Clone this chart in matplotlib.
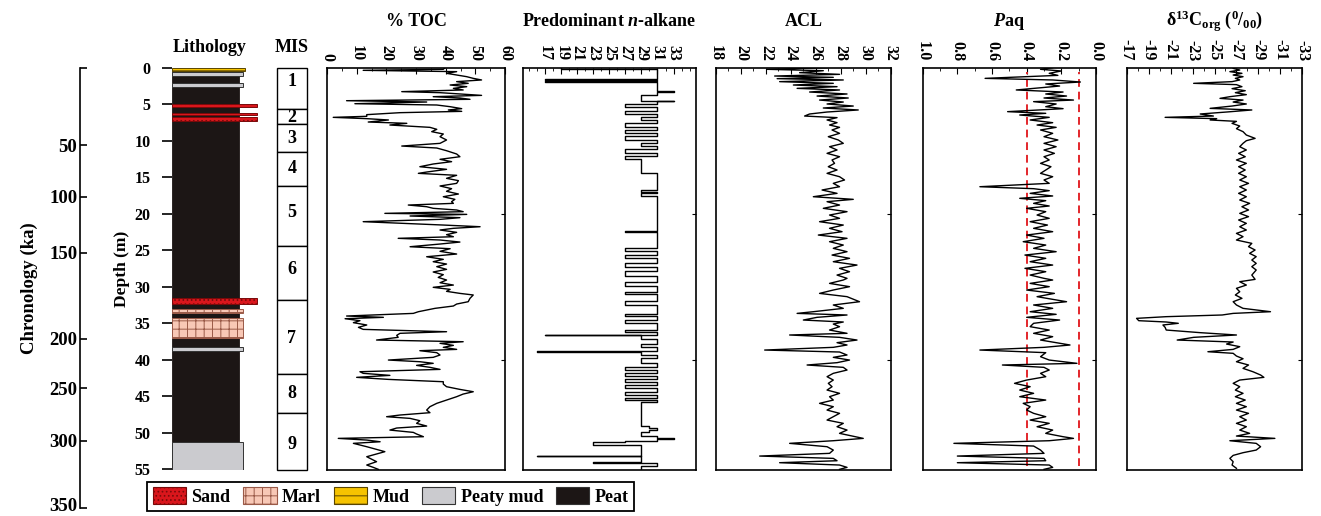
import matplotlib.pyplot as plt
from matplotlib.patches import Patch
from matplotlib.transforms import ScaledTranslation

# ---------------- data ----------------
# % TOC
toc_depth = [0.00, 0.22, 0.36, 0.54, 0.77, 1.23, 1.46, 1.68, 1.91, 2.14,
             2.37, 2.60, 2.83, 3.05, 3.28, 3.42, 3.60, 3.79, 3.97, 4.15,
             4.33, 4.52, 4.70, 4.93, 5.11, 5.34, 5.61, 5.79, 5.98, 6.16,
             6.43, 6.66, 6.80, 6.98, 7.16, 7.44, 7.62, 7.85, 8.17, 8.44,
             8.76, 9.08, 9.45, 9.90, 10.36, 10.73, 11.00, 11.37, 11.82, 12.19,
             12.55, 12.87, 13.19, 13.56, 13.92, 14.29, 14.47, 14.74, 15.15, 15.47,
             15.84, 16.20, 16.57, 16.93, 17.30, 17.67, 18.03, 18.35, 18.58, 18.81,
             19.04, 19.26, 19.49, 19.72, 19.95, 20.09, 20.31, 20.54, 20.77, 21.09,
             21.32, 21.55, 21.78, 22.00, 22.23, 22.55, 22.87, 23.15, 23.37, 23.60,
             23.88, 24.15, 24.52, 24.79, 25.15, 25.52, 25.89, 26.25, 26.57, 26.89,
             27.25, 27.62, 27.98, 28.35, 28.72, 29.08, 29.45, 29.77, 30.08, 30.36,
             30.63, 30.91, 31.13, 31.59, 32.05, 32.37, 32.64, 32.96, 33.42, 33.65,
             34.01, 34.19, 34.38, 34.65, 34.92, 35.24, 35.56, 35.84, 36.16, 36.38,
             36.66, 36.93, 37.30, 37.53, 37.75, 38.03, 38.30, 38.58, 38.76, 39.03,
             39.35, 39.67, 40.04, 40.27, 40.49, 40.77, 41.04, 41.32, 41.64, 41.86,
             42.14, 42.41, 42.69, 43.01, 43.33, 43.69, 44.06, 44.38, 44.70, 45.06,
             45.52, 45.97, 46.43, 46.89, 47.25, 47.57, 47.80, 48.03, 48.35, 48.71,
             49.08, 49.35, 49.63, 49.95, 50.17, 50.54, 50.77, 51.00, 51.23, 51.45,
             51.91, 52.59, 53.28, 53.96, 54.42, 54.74, 55.01]
toc_value = [39.8, 39.2, 12.2, 43.7, 40.3, 47.1, 49.3, 52.1, 43.7, 47.6,
             41.5, 47.1, 42.6, 45.9, 25.2, 38.1, 44.8, 52.1, 35.8, 44.8,
             48.2, 6.6, 33.6, 9.4, 37.0, 41.5, 45.4, 40.9, 45.4, 24.6,
             13.4, 13.4, 2.1, 13.4, 20.7, 13.9, 26.9, 21.2, 34.7, 37.0,
             35.3, 39.2, 38.1, 40.3, 38.1, 25.2, 37.0, 40.3, 43.7, 44.8,
             38.1, 42.0, 35.8, 31.3, 40.3, 33.6, 30.8, 43.7, 40.3, 44.3,
             43.7, 38.1, 42.0, 40.3, 44.3, 39.2, 43.1, 42.0, 42.6, 27.4,
             33.6, 35.8, 43.7, 45.9, 19.5, 47.1, 28.0, 44.8, 38.1, 12.2,
             25.7, 39.2, 51.6, 42.6, 38.1, 43.7, 40.3, 42.6, 24.0, 38.1,
             44.8, 38.1, 28.0, 41.5, 38.1, 43.7, 33.6, 39.2, 35.8, 40.3,
             37.0, 40.3, 35.8, 39.2, 37.5, 40.3, 38.1, 42.6, 35.8, 41.5,
             40.3, 44.8, 49.3, 48.2, 47.6, 43.7, 42.6, 36.4, 30.8, 29.1,
             6.6, 19.0, 6.1, 11.1, 8.9, 13.4, 10.6, 12.2, 40.3, 24.6,
             23.5, 24.0, 16.7, 45.9, 38.1, 42.6, 39.2, 43.7, 31.3, 37.0,
             38.1, 35.8, 20.7, 31.3, 35.8, 30.2, 34.7, 38.1, 11.1, 12.2,
             21.2, 10.0, 20.7, 39.2, 39.2, 40.3, 44.8, 49.3, 45.9, 43.7,
             40.3, 37.0, 34.7, 33.6, 34.7, 24.6, 20.1, 28.0, 31.3, 30.2,
             33.6, 23.5, 21.2, 29.1, 30.2, 32.5, 3.8, 13.4, 17.9, 8.9,
             13.4, 19.5, 13.4, 16.7, 13.4, 15.6, 17.3]

# predominant n-alkane (each value holds from its depth down to the next one)
alk_depth = [0.00, 0.20, 1.58, 1.62, 1.88, 1.92, 3.25, 3.32, 3.75, 4.55,
             4.62, 5.00, 5.40, 5.90, 6.30, 6.80, 7.20, 7.60, 8.10, 8.50,
             8.95, 9.40, 9.85, 10.30, 10.70, 11.20, 11.65, 12.10, 12.50, 14.45,
             16.80, 17.00, 17.15, 17.55, 22.35, 22.45, 24.65, 25.10, 25.60, 26.10,
             26.70, 27.30, 27.90, 28.50, 29.30, 29.90, 30.70, 30.95, 31.95, 32.50,
             33.70, 33.95, 34.60, 35.00, 35.90, 36.20, 36.55, 36.65, 37.10, 37.80,
             38.20, 38.85, 38.95, 39.35, 39.80, 40.50, 41.00, 41.40, 41.80, 42.20,
             42.60, 43.00, 43.50, 43.90, 44.40, 44.80, 45.20, 45.55, 45.85, 49.10,
             49.35, 49.65, 49.90, 50.40, 50.75, 50.90, 51.10, 51.30, 51.70, 53.15,
             53.25, 54.05, 54.20, 54.55, 55.00]
alk_value = [19, 31, 17, 31, 17, 31, 33, 31, 29, 33,
             31, 27, 31, 27, 31, 29, 31, 27, 31, 27,
             31, 27, 31, 29, 31, 27, 31, 27, 29, 31,
             29, 31, 29, 31, 27, 31, 27, 31, 27, 31,
             27, 31, 27, 31, 27, 31, 27, 31, 27, 31,
             27, 31, 27, 31, 27, 31, 17, 29, 31, 29,
             31, 16, 29, 31, 29, 31, 27, 31, 27, 31,
             27, 31, 27, 31, 27, 31, 27, 31, 29, 30,
             31, 30, 29, 31, 33, 31, 27, 23, 29, 16,
             29, 23, 31, 29, 29]

# ACL
acl_depth = [0.00, 0.22, 0.41, 0.68, 0.91, 1.14, 1.32, 1.50, 1.68, 1.91,
             2.14, 2.37, 2.60, 2.83, 3.05, 3.33, 3.60, 3.88, 4.15, 4.43,
             4.70, 4.97, 5.25, 5.52, 5.79, 6.07, 6.34, 6.62, 6.84, 7.16,
             7.53, 7.85, 8.17, 8.53, 8.99, 9.45, 9.90, 10.36, 10.82, 11.27,
             11.73, 12.19, 12.64, 13.10, 13.56, 14.01, 14.47, 14.93, 15.38, 15.84,
             16.30, 16.75, 17.21, 17.67, 18.03, 18.35, 18.81, 19.26, 19.72, 20.18,
             20.63, 21.09, 21.55, 22.00, 22.46, 22.92, 23.37, 23.83, 24.29, 24.74,
             25.20, 25.66, 26.11, 26.57, 27.03, 27.48, 27.94, 28.40, 28.85, 29.08,
             29.54, 29.99, 30.45, 30.91, 31.36, 32.05, 32.50, 32.96, 33.42, 33.65,
             33.87, 34.19, 34.56, 34.83, 35.11, 35.47, 35.93, 36.38, 36.61, 36.93,
             37.30, 37.66, 37.98, 38.30, 38.67, 38.94, 39.35, 39.67, 40.04, 40.40,
             40.72, 41.04, 41.41, 41.86, 42.32, 42.78, 43.23, 43.69, 44.15, 44.60,
             45.06, 45.52, 45.97, 46.43, 46.89, 47.34, 47.80, 48.26, 48.71, 49.17,
             49.63, 50.08, 50.77, 51.09, 51.45, 51.91, 52.37, 52.82, 53.19, 53.51,
             53.83, 54.10, 54.42, 54.74, 55.01]
acl_value = [26.9, 22.1, 26.6, 24.7, 27.9, 22.7, 27.4, 22.9, 28.2, 23.1,
             27.4, 24.2, 27.7, 24.5, 27.9, 25.5, 28.5, 26.1, 28.6, 26.3,
             28.2, 26.9, 29.0, 26.6, 29.4, 26.9, 25.5, 25.1, 27.7, 26.9,
             27.7, 27.1, 27.9, 27.3, 27.9, 27.0, 27.8, 28.2, 27.1, 27.7,
             26.9, 27.9, 27.3, 27.5, 27.0, 27.7, 26.9, 27.9, 28.3, 27.4,
             27.9, 26.5, 27.7, 25.8, 29.0, 26.9, 27.9, 26.6, 28.5, 27.1,
             27.9, 26.3, 28.2, 27.1, 28.1, 26.2, 28.5, 27.1, 28.2, 27.4,
             28.5, 27.3, 28.7, 27.4, 29.3, 27.9, 28.7, 27.7, 28.5, 28.2,
             27.1, 28.7, 27.4, 26.3, 28.5, 29.5, 27.4, 28.2, 25.8, 24.5,
             28.5, 26.1, 25.0, 28.2, 27.4, 27.9, 27.1, 28.5, 23.9, 27.9,
             29.3, 27.7, 28.5, 27.4, 21.9, 27.9, 28.5, 27.4, 28.7, 27.7,
             25.3, 28.2, 28.5, 27.4, 26.9, 27.4, 27.0, 27.3, 26.9, 27.9,
             27.1, 27.4, 26.3, 27.4, 26.9, 27.9, 27.4, 26.9, 28.2, 27.7,
             28.5, 27.9, 29.8, 27.4, 23.9, 26.9, 27.4, 27.1, 21.5, 27.4,
             27.7, 23.1, 27.9, 28.5, 27.9]

# Paq
paq_depth = [0.00, 0.22, 0.45, 0.77, 1.05, 1.46, 1.68, 1.96, 2.23, 2.51,
             2.83, 3.05, 3.33, 3.60, 3.88, 4.15, 4.43, 4.65, 4.97, 5.34,
             5.61, 6.02, 6.25, 6.48, 6.80, 7.16, 7.53, 7.85, 8.17, 8.53,
             8.99, 9.45, 9.90, 10.36, 10.82, 11.27, 11.73, 12.19, 12.64, 13.10,
             13.56, 14.01, 14.47, 14.93, 15.38, 15.84, 16.30, 16.57, 16.84, 17.21,
             17.57, 17.89, 18.21, 18.58, 18.94, 19.26, 19.72, 20.18, 20.63, 21.09,
             21.55, 22.00, 22.46, 22.92, 23.37, 23.83, 24.29, 24.74, 25.20, 25.66,
             26.11, 26.57, 27.03, 27.48, 27.94, 28.40, 28.85, 29.08, 29.54, 29.99,
             30.45, 30.91, 31.36, 32.05, 32.50, 32.96, 33.42, 33.78, 34.19, 34.56,
             35.01, 35.47, 35.93, 36.38, 36.84, 37.30, 37.98, 38.30, 38.67, 39.03,
             39.58, 40.04, 40.49, 40.72, 41.04, 41.41, 41.86, 42.32, 42.78, 43.23,
             43.69, 44.15, 44.60, 45.06, 45.52, 45.97, 46.43, 46.89, 47.34, 47.80,
             48.26, 48.71, 49.17, 49.63, 50.08, 50.54, 50.77, 51.09, 51.45, 51.82,
             52.37, 52.82, 53.19, 53.51, 53.83, 54.10, 54.42, 54.74, 55.01]
paq_value = [0.25, 0.32, 0.20, 0.27, 0.22, 0.64, 0.25, 0.09, 0.29, 0.21,
             0.36, 0.46, 0.19, 0.29, 0.17, 0.30, 0.13, 0.36, 0.23, 0.29,
             0.19, 0.51, 0.29, 0.44, 0.27, 0.38, 0.25, 0.34, 0.23, 0.32,
             0.25, 0.30, 0.22, 0.30, 0.23, 0.30, 0.24, 0.30, 0.27, 0.32,
             0.26, 0.29, 0.32, 0.25, 0.30, 0.27, 0.67, 0.36, 0.27, 0.38,
             0.25, 0.44, 0.29, 0.36, 0.27, 0.40, 0.29, 0.34, 0.27, 0.38,
             0.28, 0.36, 0.25, 0.40, 0.30, 0.42, 0.29, 0.36, 0.23, 0.41,
             0.29, 0.38, 0.25, 0.41, 0.29, 0.38, 0.30, 0.25, 0.38, 0.27,
             0.40, 0.24, 0.34, 0.17, 0.36, 0.25, 0.38, 0.23, 0.40, 0.21,
             0.36, 0.38, 0.27, 0.36, 0.25, 0.32, 0.15, 0.30, 0.67, 0.29,
             0.32, 0.27, 0.11, 0.54, 0.30, 0.27, 0.32, 0.29, 0.40, 0.47,
             0.38, 0.44, 0.36, 0.44, 0.29, 0.42, 0.38, 0.40, 0.36, 0.29,
             0.38, 0.27, 0.34, 0.25, 0.29, 0.19, 0.13, 0.27, 0.82, 0.36,
             0.32, 0.30, 0.80, 0.30, 0.29, 0.80, 0.27, 0.25, 0.30]
paq_limits = [0.4, 0.1]

# d13C org
d13c_depth = [0.09, 0.32, 0.54, 0.77, 1.00, 1.23, 1.46, 1.68, 1.91, 2.14,
              2.32, 2.60, 2.87, 3.15, 3.42, 3.69, 3.97, 4.20, 4.43, 4.70,
              4.97, 5.25, 5.57, 5.79, 6.07, 6.34, 6.62, 6.80, 6.98, 7.16,
              7.35, 7.62, 7.99, 8.35, 8.76, 9.22, 9.68, 10.00, 10.36, 10.82,
              11.27, 11.73, 12.19, 12.64, 13.10, 13.56, 14.01, 14.47, 14.93, 15.38,
              15.84, 16.30, 16.75, 17.21, 17.67, 18.12, 18.58, 19.04, 19.49, 19.95,
              20.40, 20.86, 21.32, 21.78, 22.23, 22.69, 23.14, 23.60, 24.06, 24.51,
              24.97, 25.43, 25.88, 26.34, 26.80, 27.25, 27.71, 28.40, 28.99, 29.31,
              29.77, 30.22, 30.68, 31.13, 31.59, 32.05, 32.50, 32.96, 33.42, 33.65,
              33.87, 34.10, 34.33, 34.65, 34.83, 35.01, 35.24, 35.56, 35.93, 36.29,
              36.61, 36.93, 37.30, 37.57, 37.85, 38.21, 38.58, 38.90, 39.12, 39.49,
              39.86, 40.27, 40.72, 41.18, 41.64, 42.09, 42.41, 42.78, 43.23, 43.69,
              44.15, 44.60, 45.06, 45.52, 45.97, 46.43, 46.89, 47.34, 47.80, 48.26,
              48.71, 49.17, 49.63, 50.08, 50.45, 50.77, 51.09, 51.45, 51.91, 52.37,
              52.73, 53.10, 53.51, 53.96, 54.42, 54.87]
d13c_value = [-26.7, -27.3, -26.4, -27.5, -26.7, -27.6, -26.9, -27.3, -26.6, -23.1,
              -27.0, -27.5, -26.6, -27.8, -26.9, -27.9, -26.4, -25.5, -27.6, -26.7,
              -27.9, -26.6, -24.6, -28.4, -26.1, -23.7, -24.9, -20.5, -25.2, -24.6,
              -27.0, -26.6, -27.3, -27.0, -27.6, -27.9, -28.7, -27.9, -27.6, -27.3,
              -27.9, -27.2, -27.8, -27.0, -27.9, -27.2, -27.8, -27.2, -27.9, -27.3,
              -28.1, -27.3, -27.9, -27.2, -27.9, -27.3, -28.2, -27.5, -28.1, -27.3,
              -28.1, -27.2, -27.9, -27.3, -27.9, -27.0, -27.6, -27.0, -28.4, -28.1,
              -28.7, -28.2, -28.8, -28.4, -28.8, -28.4, -28.8, -28.4, -28.7, -27.3,
              -27.9, -27.0, -27.3, -26.9, -27.5, -26.7, -27.0, -27.6, -30.1, -26.7,
              -25.7, -20.6, -17.9, -18.1, -20.6, -21.7, -20.3, -20.5, -20.6, -23.7,
              -27.0, -23.1, -21.6, -26.7, -26.1, -27.3, -26.7, -24.4, -26.7, -27.0,
              -27.6, -27.0, -28.1, -27.6, -28.5, -29.2, -29.5, -27.3, -26.7, -27.3,
              -26.9, -27.6, -26.9, -27.8, -27.0, -27.9, -27.0, -28.1, -27.3, -27.9,
              -27.0, -27.9, -27.3, -28.2, -27.0, -30.5, -26.4, -28.8, -29.2, -28.8,
              -27.6, -26.7, -26.4, -26.7, -26.6, -27.0]

# lithology layers (peat everywhere else)
lith_top = [0.0, 0.55, 2.05, 5.0, 6.15, 6.8, 31.6, 33.1, 34.3, 38.3, 51.2]
lith_base = [0.45, 1.15, 2.7, 5.4, 6.5, 7.25, 32.4, 33.6, 37.0, 38.8, 55.1]
lith_type = ['Mud', 'Peaty mud', 'Peaty mud', 'Sand', 'Sand', 'Sand',
             'Sand', 'Marl', 'Marl', 'Peaty mud', 'Peaty mud']
core_base = 55.1

# marine isotope stages
mis_bounds = [0, 5.66, 7.76, 11.6, 16.2, 24.4, 31.8, 42.0, 47.3, 55.1]
mis_labels = ['1', '2', '3', '4', '5', '6', '7', '8', '9']
mis_label_depth = [1.9, 6.8, 9.7, 13.8, 19.8, 27.6, 37.1, 44.6, 51.6]

# chronology: ages and the depths they fall at
chron_ages = [0, 50, 100, 150, 200, 250, 300, 350]
chron_depths = [0, 10.59, 17.67, 25.34, 37.16, 43.92, 51.1, 60.36]

# ---------------- styling ----------------
SERIF = ['Liberation Serif', 'DejaVu Serif']
plt.rcParams['font.family'] = SERIF
plt.rcParams['font.weight'] = 'bold'
plt.rcParams['axes.unicode_minus'] = False
plt.rcParams['hatch.linewidth'] = 0.7
plt.rcParams['mathtext.fontset'] = 'custom'
plt.rcParams['mathtext.rm'] = 'Liberation Serif:bold'
plt.rcParams['mathtext.bf'] = 'Liberation Serif:bold'
plt.rcParams['mathtext.it'] = 'Liberation Serif:italic:bold'

lith_style = {
    'Sand': dict(facecolor='#d9161c', edgecolor='#7a0a0a', hatch='....', width=0.945),
    'Marl': dict(facecolor='#f8c8b6', edgecolor='#9a5a48', hatch='++', width=0.79),
    'Mud': dict(facecolor='#f6c300', edgecolor='#5a4500', hatch='--', width=0.81),
    'Peaty mud': dict(facecolor='#cbcbcf', edgecolor='#333333', hatch=None, width=0.79),
    'Peat': dict(facecolor='#1c1615', edgecolor='#1c1615', hatch=None, width=0.745),
}

W, H = 1321, 516
fig = plt.figure(figsize=(W / 100, H / 100), dpi=100)
TOP, BOT = 67.7, 470


def px_axes(x0, x1, y0=TOP, y1=BOT):
    return fig.add_axes([x0 / W, 1 - y1 / H, (x1 - x0) / W, (y1 - y0) / H])


def panel(x0, x1, title, xlim, ticks, minor, fmt='{:g}'):
    ax = px_axes(x0, x1)
    ax.set_xlim(*xlim)
    ax.set_ylim(core_base, 0)
    ax.xaxis.set_ticks_position('top')
    ax.set_xticks(ticks)
    ax.set_xticks(minor, minor=True)
    ax.set_xticklabels([fmt.format(t) for t in ticks], rotation=-90,
                       family=SERIF, fontweight='bold', fontsize=11.5)
    ax.tick_params(axis='x', which='major', direction='in', length=4, width=0.8,
                   pad=5)
    ax.tick_params(axis='x', which='minor', direction='in', length=2, width=0.6)
    ax.yaxis.set_ticks_position('right')
    ax.set_yticks([20, 40])
    ax.tick_params(axis='y', direction='in', length=3, width=0.8, labelright=False)
    for s in ax.spines.values():
        s.set_linewidth(1.2)
    ax.annotate(title, xy=(0.5, 1), xycoords='axes fraction', xytext=(0, 30),
                textcoords='offset points', ha='center', va='baseline',
                fontsize=13, fontweight='bold')
    return ax


# ---------------- chronology axis ----------------
axc = px_axes(80, 95, TOP, 508.3)
axc.set_ylim(chron_depths[-1], 0)
axc.set_xlim(0, 1)
for s in ['top', 'right', 'bottom']:
    axc.spines[s].set_visible(False)
axc.spines['left'].set_linewidth(1.2)
axc.set_xticks([])
axc.set_yticks(chron_depths)
chron_labels = axc.set_yticklabels([''] + [str(a) for a in chron_ages[1:]],
                                   family=SERIF, fontweight='bold', fontsize=13.5)
axc.tick_params(axis='y', direction='in', length=5, width=1.2, pad=2)
# lift the bottom label a little so it stays inside the canvas
chron_labels[-1].set_transform(chron_labels[-1].get_transform()
                               + ScaledTranslation(0, 3 / 72, fig.dpi_scale_trans))
axc.set_ylabel('Chronology (ka)', fontsize=13.5, fontweight='bold', labelpad=8)
axc.patch.set_visible(False)

# ---------------- lithology column ----------------
axl = px_axes(172, 262)
axl.set_xlim(0, 1)
axl.set_ylim(core_base, 0)
for s in axl.spines.values():
    s.set_visible(False)
axl.set_xticks([])
depth_ticks = list(range(0, 56, 5))
axl.set_yticks(depth_ticks)
axl.set_yticklabels([str(d) for d in depth_ticks], family=SERIF,
                    fontweight='bold', fontsize=11.5)
axl.tick_params(axis='y', direction='out', length=7.5, width=1.2, pad=8)
axl.set_ylabel('Depth (m)', fontsize=12.5, fontweight='bold', labelpad=3)
pe = lith_style['Peat']
axl.barh(0.45, pe['width'], height=core_base - 0.45, left=0, align='edge',
         color=pe['facecolor'], edgecolor=pe['edgecolor'], linewidth=0.6)
for t, b, kind in zip(lith_top, lith_base, lith_type):
    st = lith_style[kind]
    axl.barh(t, st['width'], height=b - t, left=0, align='edge',
             facecolor=st['facecolor'], edgecolor=st['edgecolor'],
             hatch=st['hatch'], linewidth=0.7)
axl.annotate('Lithology', xy=(0.42, 1), xycoords='axes fraction', xytext=(0, 11),
             textcoords='offset points', ha='center', va='baseline',
             fontsize=13, fontweight='bold')

# ---------------- MIS column ----------------
axm = px_axes(276.7, 307.3)
axm.set_xlim(0, 1)
axm.set_ylim(core_base, 0)
axm.axis('off')
for i, lab in enumerate(mis_labels):
    t, b = mis_bounds[i], mis_bounds[i + 1]
    axm.barh(t, 1, height=b - t, left=0, align='edge', facecolor='white',
             edgecolor='black', linewidth=1.0, clip_on=False)
    axm.text(0.5, mis_label_depth[i], lab, ha='center', va='center', fontsize=13,
             fontweight='bold')
axm.annotate('MIS', xy=(0.5, 1), xycoords='axes fraction', xytext=(0, 11),
             textcoords='offset points', ha='center', va='baseline',
             fontsize=13, fontweight='bold')

# ---------------- data panels ----------------
ax1 = panel(327, 505, '% TOC', (0, 60), range(0, 61, 10), range(5, 60, 10))
ax1.plot(toc_value, toc_depth, color='black', lw=1.0)

ax2 = panel(522.7, 696, 'Predominant $\\mathit{n}$-alkane', (14.2, 35.8),
            range(17, 34, 2), range(15, 36, 1))
ax2.plot(alk_value, alk_depth, color='black', lw=1.0, drawstyle='steps-pre')

ax3 = panel(716, 890.7, 'ACL', (18, 32), range(18, 33, 2), range(19, 32, 2))
ax3.plot(acl_value, acl_depth, color='black', lw=1.0)

paq_ticks = [1.0, 0.8, 0.6, 0.4, 0.2, 0.0]
ax4 = panel(922.7, 1096, '$\\mathit{P}$aq', (1.0, 0.0), paq_ticks,
            [0.9, 0.7, 0.5, 0.3, 0.1], fmt='{:.1f}')
for lim in paq_limits:
    ax4.axvline(lim, color='#e3262b', lw=1.4, ls=(0, (4, 2.5)), ymin=0.01, ymax=0.99)
ax4.plot(paq_value, paq_depth, color='black', lw=1.0)

ax5 = panel(1126.7, 1302.3, 'δ$^{13}$C$_{\\mathrm{org}}$ ($^{0}$/$_{00}$)',
            (-17, -33), range(-17, -34, -2), range(-18, -33, -2))
ax5.plot(d13c_value, d13c_depth, color='black', lw=1.0)

# ---------------- legend ----------------
handles = []
for kind in ['Sand', 'Marl', 'Mud', 'Peaty mud', 'Peat']:
    st = lith_style[kind]
    handles.append(Patch(facecolor=st['facecolor'],
                         edgecolor='#333333' if st['hatch'] is None else st['edgecolor'],
                         hatch=st['hatch'], linewidth=0.8, label=kind))
leg = fig.legend(handles=handles, loc='upper left', ncol=5,
                 bbox_to_anchor=(147.3 / W, 1 - 481.7 / H), borderaxespad=0,
                 prop={'family': SERIF, 'weight': 'bold', 'size': 13},
                 handlelength=1.85, handleheight=1.1,
                 handletextpad=0.3, columnspacing=0.7, borderpad=0.3,
                 fancybox=False, framealpha=1, edgecolor='black')
leg.get_frame().set_linewidth(1.3)

fig.savefig('out.png', dpi=100)
